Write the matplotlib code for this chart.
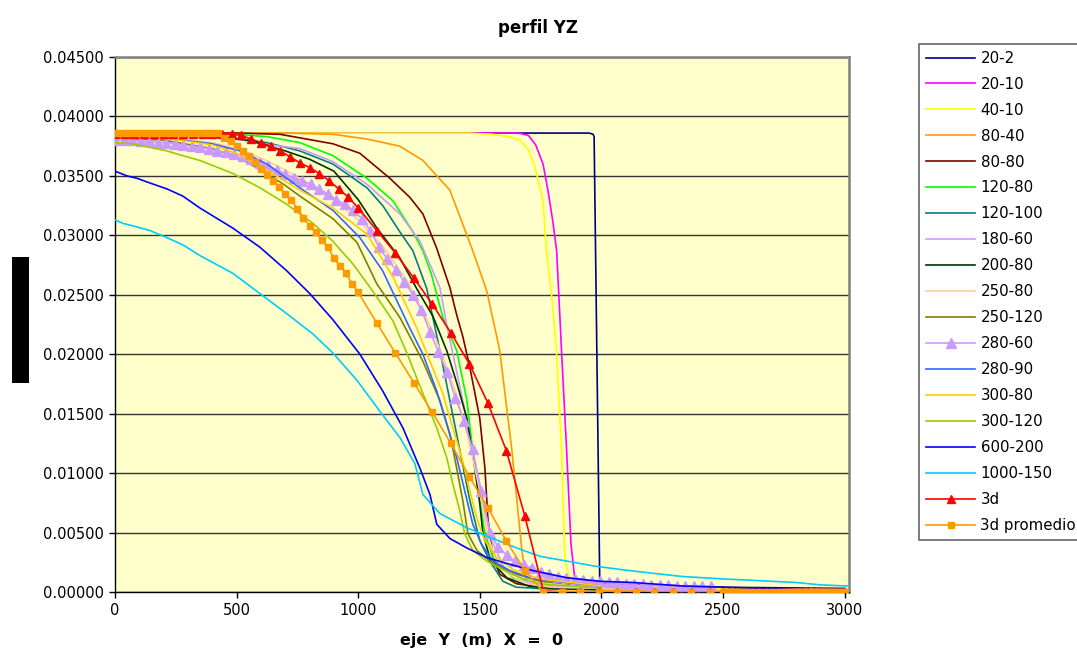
import matplotlib
matplotlib.use("Agg")
import matplotlib.pyplot as plt
from matplotlib.patches import Rectangle

plt.rcParams['font.family'] = ['DejaVu Sans']

# ---------------- data ----------------
s20_2_x = [0, 500, 1000, 1500, 1950, 1966, 1970, 1993, 2010, 2200, 2500, 3000]
s20_2_y = [0.0386, 0.0386, 0.0386, 0.0386, 0.0386, 0.0385, 0.0383, 0.0011, 0.0008, 0.0006, 0.0004, 0.0003]

s20_10_x = [0, 1000, 1600, 1660, 1700, 1730, 1760, 1780, 1800, 1816, 1836, 1857, 1875, 1890, 1950, 2200, 2500, 3000]
s20_10_y = [0.0386, 0.0386, 0.0386, 0.0386, 0.0384, 0.0376, 0.0360, 0.0338, 0.0312, 0.0287, 0.0203, 0.0119, 0.0040, 0.0012, 0.0008, 0.0005, 0.0003, 0.0002]

s40_10_x = [0, 1000, 1450, 1550, 1620, 1665, 1700, 1726, 1759, 1774, 1795, 1815, 1836, 1850, 1870, 1890, 2000, 2500, 3000]
s40_10_y = [0.0386, 0.0386, 0.0386, 0.0385, 0.0383, 0.0380, 0.0372, 0.0358, 0.0330, 0.0287, 0.0250, 0.0203, 0.0119, 0.0026, 0.0012, 0.0009, 0.0006, 0.0003, 0.0002]

s80_40_x = [0, 500, 700, 896, 1036, 1171, 1266, 1377, 1471, 1529, 1582, 1632, 1673, 1693, 1720, 1800, 2500, 3000]
s80_40_y = [0.0386, 0.0386, 0.0386, 0.0385, 0.0381, 0.0375, 0.0363, 0.0338, 0.0287, 0.0253, 0.0203, 0.0119, 0.0035, 0.0008, 0.0003, 0.0002, 0.0001, 0.0001]

s80_80_x = [0, 500, 678, 760, 896, 1007, 1130, 1212, 1266, 1323, 1377, 1405, 1430, 1459, 1500, 1521, 1533, 1554, 1582, 1650, 1750, 2000]
s80_80_y = [0.0386, 0.0386, 0.0385, 0.0382, 0.0377, 0.0369, 0.0348, 0.0332, 0.0318, 0.0289, 0.0256, 0.0233, 0.0215, 0.0189, 0.0146, 0.0104, 0.0062, 0.0029, 0.0015, 0.0007, 0.0004, 0.0003]

s120_80_x = [0, 500, 624, 760, 896, 1036, 1143, 1225, 1266, 1300, 1348, 1405, 1447, 1471, 1500, 1521, 1554, 1636, 1750, 2000]
s120_80_y = [0.0386, 0.0385, 0.0383, 0.0378, 0.0367, 0.0348, 0.0329, 0.0303, 0.0287, 0.0268, 0.0231, 0.0203, 0.0161, 0.0119, 0.0077, 0.0049, 0.0029, 0.0012, 0.0004, 0.0003]

s120_100_x = [0, 300, 500, 624, 760, 896, 1036, 1101, 1171, 1225, 1282, 1336, 1377, 1418, 1459, 1500, 1541, 1595, 1650, 1750, 2000]
s120_100_y = [0.0385, 0.0384, 0.0381, 0.0378, 0.0371, 0.0360, 0.0340, 0.0325, 0.0303, 0.0287, 0.0255, 0.0203, 0.0161, 0.0119, 0.0077, 0.0043, 0.0026, 0.0009, 0.0004, 0.0003, 0.0002]

s180_60_x = [0, 300, 500, 600, 760, 896, 1036, 1101, 1171, 1254, 1336, 1364, 1400, 1430, 1471, 1513, 1550, 1600, 1700, 1800, 2000]
s180_60_y = [0.0384, 0.0384, 0.0381, 0.0377, 0.0373, 0.0362, 0.0343, 0.0331, 0.0318, 0.0295, 0.0256, 0.0225, 0.0190, 0.0161, 0.0119, 0.0077, 0.0043, 0.0020, 0.0008, 0.0005, 0.0003]

s200_80_x = [0, 400, 550, 700, 800, 900, 1000, 1077, 1171, 1241, 1307, 1364, 1405, 1447, 1475, 1500, 1513, 1545, 1611, 1700, 1800, 2000]
s200_80_y = [0.0384, 0.0383, 0.0380, 0.0371, 0.0364, 0.0354, 0.0330, 0.0306, 0.0281, 0.0255, 0.0232, 0.0203, 0.0176, 0.0146, 0.0110, 0.0074, 0.0049, 0.0026, 0.0012, 0.0005, 0.0003, 0.0002]

s250_80_x = [0, 200, 400, 500, 600, 700, 800, 900, 1000, 1100, 1200, 1300, 1350, 1400, 1450, 1500, 1530, 1560, 1600, 1650, 1700, 1750, 1800, 2000, 2500, 3000]
s250_80_y = [0.0383, 0.0382, 0.0378, 0.0373, 0.0365, 0.0355, 0.0343, 0.0330, 0.0313, 0.0291, 0.0262, 0.0222, 0.0197, 0.0168, 0.0132, 0.0085, 0.0050, 0.0030, 0.0018, 0.0011, 0.0007, 0.0005, 0.0004, 0.0003, 0.0002, 0.0001]

s250_120_x = [0, 200, 400, 500, 600, 700, 760, 896, 995, 1077, 1171, 1266, 1336, 1377, 1405, 1430, 1451, 1488, 1554, 1652, 1747, 2000]
s250_120_y = [0.0382, 0.0380, 0.0373, 0.0366, 0.0355, 0.0342, 0.0333, 0.0314, 0.0294, 0.0259, 0.0231, 0.0194, 0.0161, 0.0133, 0.0104, 0.0077, 0.0049, 0.0035, 0.0024, 0.0015, 0.0009, 0.0004]

s280_60_x = [0, 35, 70, 105, 140, 175, 210, 245, 280, 315, 350, 385, 420, 455, 490, 525, 560, 595, 630, 665,
             700, 735, 770, 805, 840, 875, 910, 945, 980, 1015, 1050, 1085, 1120, 1155, 1190, 1225, 1260, 1295, 1330, 1365,
             1400, 1435, 1470, 1505, 1540, 1575, 1610, 1645, 1680, 1715, 1750, 1785, 1820, 1855, 1890, 1925, 1960, 1995, 2030, 2065,
             2100, 2135, 2170, 2205, 2240, 2275, 2310, 2345, 2380, 2415, 2450]
s280_60_y = [0.0380, 0.0380, 0.0380, 0.0379, 0.0379, 0.0378, 0.0378, 0.0377, 0.0376, 0.0375, 0.0374, 0.0373, 0.0371, 0.0370, 0.0368, 0.0367, 0.0364, 0.0361, 0.0358, 0.0355,
             0.0352, 0.0348, 0.0346, 0.0343, 0.0339, 0.0335, 0.0330, 0.0326, 0.0321, 0.0314, 0.0304, 0.0290, 0.0280, 0.0271, 0.0261, 0.0250, 0.0237, 0.0219, 0.0202, 0.0185,
             0.0163, 0.0144, 0.0120, 0.0085, 0.0050, 0.0038, 0.0031, 0.0026, 0.0023, 0.0020, 0.0017, 0.0015, 0.0013, 0.0012, 0.0011, 0.0010, 0.0009, 0.0009, 0.0008, 0.0008,
             0.0007, 0.0007, 0.0007, 0.0006, 0.0006, 0.0006, 0.0005, 0.0005, 0.0005, 0.0005, 0.0005]

s280_90_x = [0, 200, 400, 514, 625, 760, 896, 1007, 1101, 1212, 1266, 1323, 1364, 1405, 1438, 1471, 1508, 1554, 1624, 1718, 2000]
s280_90_y = [0.0384, 0.0382, 0.0377, 0.0371, 0.0360, 0.0340, 0.0321, 0.0298, 0.0270, 0.0222, 0.0200, 0.0169, 0.0141, 0.0113, 0.0085, 0.0057, 0.0040, 0.0026, 0.0018, 0.0011, 0.0005]

s300_80_x = [0, 200, 400, 500, 600, 760, 896, 1036, 1143, 1241, 1295, 1348, 1389, 1426, 1459, 1488, 1521, 1570, 1636, 1747, 2000]
s300_80_y = [0.0384, 0.0382, 0.0376, 0.0369, 0.0358, 0.0338, 0.0323, 0.0301, 0.0265, 0.0222, 0.0194, 0.0167, 0.0138, 0.0113, 0.0085, 0.0062, 0.0043, 0.0029, 0.0019, 0.0011, 0.0005]

s300_120_x = [0, 74, 144, 214, 279, 349, 485, 596, 707, 814, 896, 978, 1060, 1143, 1200, 1266, 1323, 1364, 1389, 1418, 1438, 1471, 1529, 1582, 1665, 1747, 2000]
s300_120_y = [0.0378, 0.0377, 0.0374, 0.0371, 0.0367, 0.0363, 0.0352, 0.0340, 0.0326, 0.0310, 0.0295, 0.0276, 0.0253, 0.0228, 0.0201, 0.0167, 0.0138, 0.0113, 0.0091, 0.0068, 0.0049, 0.0035, 0.0026, 0.0020, 0.0012, 0.0007, 0.0003]

s600_200_x = [0, 49, 90, 144, 214, 279, 349, 485, 596, 707, 801, 896, 1007, 1101, 1184, 1254, 1295, 1323, 1377, 1447, 1529, 1611, 1718, 1858, 1993, 2129, 2335, 2500, 3000]
s600_200_y = [0.0354, 0.0350, 0.0348, 0.0344, 0.0339, 0.0333, 0.0323, 0.0306, 0.0290, 0.0270, 0.0251, 0.0229, 0.0200, 0.0169, 0.0138, 0.0104, 0.0082, 0.0057, 0.0045, 0.0037, 0.0029, 0.0024, 0.0018, 0.0012, 0.0009, 0.0008, 0.0005, 0.0004, 0.0001]

s1000_150_x = [0, 33, 74, 144, 214, 279, 349, 485, 596, 707, 814, 896, 995, 1089, 1171, 1233, 1266, 1336, 1447, 1554, 1652, 1747, 1858, 1965, 2076, 2199, 2335, 2500, 2600, 2700, 2800, 2900, 3016]
s1000_150_y = [0.0313, 0.0310, 0.0308, 0.0304, 0.0298, 0.0292, 0.0283, 0.0268, 0.0251, 0.0234, 0.0217, 0.0201, 0.0178, 0.0152, 0.0130, 0.0108, 0.0082, 0.0066, 0.0054, 0.0045, 0.0037, 0.0030, 0.0026, 0.0022, 0.0019, 0.0016, 0.0013, 0.0011, 0.0010, 0.0009, 0.0008, 0.0006, 0.0005]

s3d_x = [0, 40, 80, 120, 160, 200, 240, 280, 320, 360, 400, 440, 480, 520, 560, 600, 640, 680, 720, 760, 800, 840, 880, 920, 960, 1000,
         1077, 1153, 1229, 1305, 1381, 1457, 1533, 1609, 1685, 1761, 1837, 1913, 1989, 2065, 2141, 2217, 2293, 2369, 2445,
         2500, 2525, 2550, 2575, 2600, 2625, 2650, 2675, 2700, 2725, 2750, 2775, 2800, 2825, 2850, 2875, 2900, 2925, 2950, 2975, 3000]
s3d_y = [0.0385, 0.0385, 0.0385, 0.0385, 0.0385, 0.0385, 0.0385, 0.0385, 0.0385, 0.0385, 0.0385, 0.0385, 0.0385, 0.0384, 0.0381, 0.0378, 0.0375, 0.0371, 0.0366, 0.0361, 0.0357, 0.0352, 0.0346, 0.0339, 0.0332, 0.0323,
         0.0304, 0.0285, 0.0264, 0.0242, 0.0218, 0.0192, 0.0159, 0.0119, 0.0064, 0.0001, 0.0, 0.0, 0.0, 0.0, 0.0, 0.0, 0.0, 0.0, 0.0,
         0.0, 0.0, 0.0, 0.0, 0.0, 0.0, 0.0, 0.0, 0.0, 0.0, 0.0, 0.0, 0.0, 0.0, 0.0, 0.0, 0.0, 0.0, 0.0, 0.0, 0.0]

s3dp_x = [0, 25, 50, 75, 100, 125, 150, 175, 200, 225, 250, 275, 300, 325, 350, 375, 400,
          425, 450, 475, 500, 525, 550, 575, 600, 625, 650, 675, 700, 725, 750, 775, 800, 825, 850, 875, 900, 925, 950, 975, 1000,
          1077, 1153, 1229, 1305, 1381, 1457, 1533, 1609, 1685, 1761, 1837, 1913, 1989, 2065, 2141, 2217, 2293, 2369, 2445,
          2500, 2525, 2550, 2575, 2600, 2625, 2650, 2675, 2700, 2725, 2750, 2775, 2800, 2825, 2850, 2875, 2900, 2925, 2950, 2975, 3000]
s3dp_y = [0.0386, 0.0386, 0.0386, 0.0386, 0.0386, 0.0386, 0.0386, 0.0386, 0.0386, 0.0386, 0.0386, 0.0386, 0.0386, 0.0386, 0.0386, 0.0386, 0.0386,
          0.0386, 0.0382, 0.0379, 0.0375, 0.0371, 0.0367, 0.0362, 0.0356, 0.0351, 0.0346, 0.0341, 0.0335, 0.0330, 0.0322, 0.0315, 0.0308, 0.0303, 0.0296, 0.0290, 0.0281, 0.0274, 0.0268, 0.0259, 0.0252,
          0.0226, 0.0201, 0.0176, 0.0151, 0.0125, 0.0097, 0.0071, 0.0043, 0.0018, 0.0, 0.0, 0.0, 0.0, 0.0, 0.0, 0.0, 0.0, 0.0, 0.0,
          0.0, 0.0, 0.0, 0.0, 0.0, 0.0, 0.0, 0.0, 0.0, 0.0, 0.0, 0.0, 0.0, 0.0, 0.0, 0.0, 0.0, 0.0, 0.0, 0.0, 0.0]

series_labels = ['20-2', '20-10', '40-10', '80-40', '80-80', '120-80', '120-100', '180-60', '200-80',
                 '250-80', '250-120', '280-60', '280-90', '300-80', '300-120', '600-200', '1000-150',
                 '3d', '3d promedio']
series_data = [(s20_2_x, s20_2_y), (s20_10_x, s20_10_y), (s40_10_x, s40_10_y), (s80_40_x, s80_40_y),
               (s80_80_x, s80_80_y), (s120_80_x, s120_80_y), (s120_100_x, s120_100_y), (s180_60_x, s180_60_y),
               (s200_80_x, s200_80_y), (s250_80_x, s250_80_y), (s250_120_x, s250_120_y), (s280_60_x, s280_60_y),
               (s280_90_x, s280_90_y), (s300_80_x, s300_80_y), (s300_120_x, s300_120_y), (s600_200_x, s600_200_y),
               (s1000_150_x, s1000_150_y), (s3d_x, s3d_y), (s3dp_x, s3dp_y)]

x_ticks = [0, 500, 1000, 1500, 2000, 2500, 3000]
y_ticks = [0.0, 0.005, 0.01, 0.015, 0.02, 0.025, 0.03, 0.035, 0.04, 0.045]

# ---------------- styles ----------------
colors = ['#000080', '#FF00FF', '#FFFF00', '#FF9900', '#800000', '#00FF00', '#008080', '#CC99FF', '#003300',
          '#FFCC99', '#808000', '#CC99FF', '#3366FF', '#FFCC00', '#99CC00', '#0000FF', '#00CCFF',
          '#FF0000', '#FF9900']
markers = [None] * 11 + ['^'] + [None] * 5 + ['^', 's']
msizes = {11: 7.5, 17: 6.0, 18: 5.0}

W, H = 1077, 650
fig = plt.figure(figsize=(W / 100, H / 100), dpi=100)
fig.patch.set_facecolor('white')
ax = fig.add_axes([115 / W, 1 - 592 / H, (849 - 115) / W, (592 - 57) / H])
ax.set_facecolor('#FFFFCC')

handles = []
for i, ((xs, ys), lab) in enumerate(zip(series_data, series_labels)):
    ln, = ax.plot(xs, ys, color=colors[i], lw=1.2, marker=markers[i],
                  markersize=msizes.get(i, 5), markeredgecolor=colors[i],
                  markerfacecolor=colors[i], label=lab, clip_on=True, zorder=3 + i * 0.01)
    handles.append(ln)

ax.set_xlim(0, 3018)
ax.set_ylim(0, 0.045)
ax.set_xticks(x_ticks)
ax.set_xticklabels([str(v) for v in x_ticks])
ax.set_yticks(y_ticks)
ax.set_yticklabels(['%.5f' % v for v in y_ticks])
ax.tick_params(axis='both', direction='out', length=4, width=1, colors='black', labelsize=10.5, pad=4)
ax.yaxis.grid(True, color='#333333', lw=1.0)
ax.set_axisbelow(True)
for s in ['left', 'bottom']:
    ax.spines[s].set_color('black')
    ax.spines[s].set_linewidth(1.0)
for s in ['top', 'right']:
    ax.spines[s].set_color('#808080')
    ax.spines[s].set_linewidth(1.8)

fig.text(0.5, 1 - 28 / H, 'perfil YZ', ha='center', va='center', fontsize=12, fontweight='bold')
fig.text(482 / W, 1 - 641 / H, 'eje  Y  (m)  X  =  0', ha='center', va='center', fontsize=11.5, fontweight='bold')

fig.patches.append(Rectangle((12 / W, 1 - 383 / H), 17 / W, 126 / H, transform=fig.transFigure,
                             facecolor='black', edgecolor='none'))

leg = fig.legend(handles, series_labels, loc='upper left', bbox_to_anchor=(919 / W, 1 - 44 / H),
                 bbox_transform=fig.transFigure, frameon=True, fancybox=False, fontsize=10.8,
                 handlelength=3.3, handletextpad=0.35, labelspacing=0.73, borderpad=0.45,
                 borderaxespad=0, numpoints=1)
leg.get_frame().set_edgecolor('#404040')
leg.get_frame().set_linewidth(1.2)

fig.savefig('out.png', dpi=100)
